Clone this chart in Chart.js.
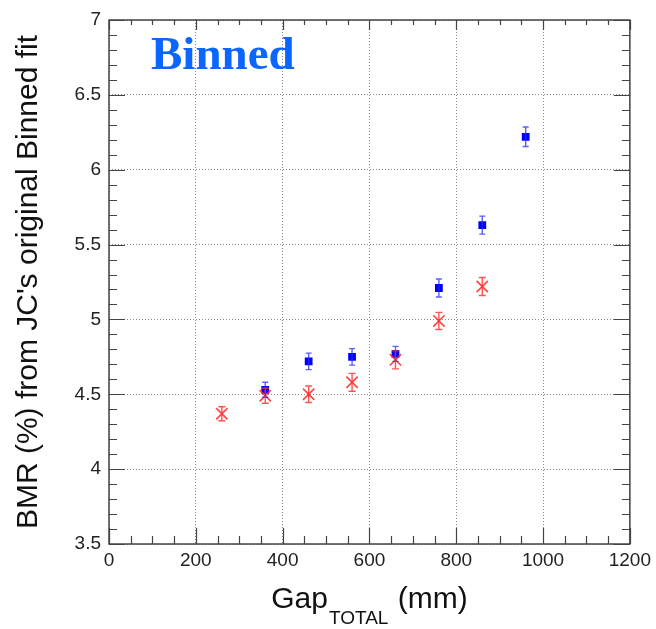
<!DOCTYPE html>
<html>
<head>
<meta charset="utf-8">
<script src="https://cdn.jsdelivr.net/npm/chart.js@4/dist/chart.umd.min.js"></script>
<style>
  html, body { margin: 0; padding: 0; background: #ffffff; }
  #wrap { position: relative; width: 656px; height: 629px; }
</style>
</head>
<body>
<div id="wrap"><canvas id="c" width="656" height="629"></canvas></div>
<script>
// ---- data ----
const blueGap = [360, 460, 560, 660, 760, 860, 960];
const blueBMR = [4.53, 4.72, 4.75, 4.77, 5.21, 5.63, 6.22];
const blueErr = [0.05, 0.055, 0.055, 0.05, 0.06, 0.06, 0.065];

const redGap = [260, 360, 460, 560, 660, 760, 860];
const redBMR = [4.37, 4.49, 4.50, 4.58, 4.73, 4.99, 5.22];
const redErr = [0.047, 0.05, 0.055, 0.06, 0.06, 0.057, 0.06];

const xTicks = [0, 200, 400, 600, 800, 1000, 1200];
const yTicks = [3.5, 4, 4.5, 5, 5.5, 6, 6.5, 7];

const titleText = "Binned";
const yTitle = "BMR (%) from JC's original Binned fit";
const xTitleMain = "Gap";
const xTitleSub = "TOTAL";
const xTitleUnit = " (mm)";

const toPoints = (xs, ys) => xs.map((x, i) => ({ x: x, y: ys[i] }));

const errorBars = {
  id: 'errorBars',
  afterDatasetsDraw(chart) {
    const ctx = chart.ctx;
    const xs = chart.scales.x, ys = chart.scales.y;
    const sets = [
      { gx: blueGap, v: blueBMR, e: blueErr, color: 'rgba(40,40,255,0.75)', cap: 3 },
      { gx: redGap, v: redBMR, e: redErr, color: 'rgba(255,40,40,0.8)', cap: 3.5 }
    ];
    ctx.save();
    sets.forEach(s => {
      ctx.strokeStyle = s.color;
      ctx.lineWidth = 1.4;
      s.gx.forEach((g, i) => {
        const px = xs.getPixelForValue(g);
        const y1 = ys.getPixelForValue(s.v[i] + s.e[i]);
        const y2 = ys.getPixelForValue(s.v[i] - s.e[i]);
        ctx.beginPath();
        ctx.moveTo(px, y1); ctx.lineTo(px, y2);
        ctx.moveTo(px - s.cap, y1); ctx.lineTo(px + s.cap, y1);
        ctx.moveTo(px - s.cap, y2); ctx.lineTo(px + s.cap, y2);
        ctx.stroke();
      });
    });
    ctx.restore();
  }
};

const frameAndTicks = {
  id: 'frameAndTicks',
  afterDraw(chart) {
    const ctx = chart.ctx;
    const a = chart.chartArea;
    const xs = chart.scales.x, ys = chart.scales.y;
    ctx.save();
    ctx.strokeStyle = '#444';
    ctx.lineWidth = 1.2;
    ctx.beginPath();
    for (let v = xs.min; v <= xs.max + 1e-9; v += 50) {
      const px = Math.round(xs.getPixelForValue(v)) + 0.5;
      const major = Math.abs(v % 200) < 1e-6;
      const lb = major ? 16 : 8;
      const lt = major ? 10 : 5;
      ctx.moveTo(px, a.bottom); ctx.lineTo(px, a.bottom - lb);
      ctx.moveTo(px, a.top); ctx.lineTo(px, a.top + lt);
    }
    for (let k = 0; k <= 35; k++) {
      const v = ys.min + k * 0.1;
      const py = Math.round(ys.getPixelForValue(v)) + 0.5;
      const major = k % 5 === 0;
      const l = major ? 16 : 8;
      ctx.moveTo(a.left, py); ctx.lineTo(a.left + l, py);
      ctx.moveTo(a.right, py); ctx.lineTo(a.right - l, py);
    }
    ctx.stroke();
    ctx.lineWidth = 1.5;
    ctx.strokeStyle = '#444';
    ctx.strokeRect(a.left, a.top, a.right - a.left, a.bottom - a.top);

    // title "Binned"
    ctx.fillStyle = '#0a66ff';
    ctx.font = 'bold 47px "Liberation Serif", "DejaVu Serif", serif';
    ctx.textAlign = 'left';
    ctx.textBaseline = 'alphabetic';
    ctx.fillText(titleText, 151, 69);

    // x axis title with subscript
    ctx.fillStyle = '#111';
    const big = '30px "Liberation Sans", Arial, sans-serif';
    const small = '19px "Liberation Sans", Arial, sans-serif';
    ctx.font = big;
    const w1 = ctx.measureText(xTitleMain).width;
    const w3 = ctx.measureText(xTitleUnit).width;
    ctx.font = small;
    const w2 = ctx.measureText(xTitleSub).width;
    const total = w1 + w2 + w3 + 2;
    const cx = (a.left + a.right) / 2;
    let x0 = cx - total / 2;
    const base = 608;
    ctx.font = big;
    ctx.fillText(xTitleMain, x0, base);
    ctx.font = small;
    ctx.fillText(xTitleSub, x0 + w1 + 1, base + 16);
    ctx.font = big;
    ctx.fillText(xTitleUnit, x0 + w1 + w2 + 2, base);
    ctx.restore();
  }
};

const gridCommon = { color: '#8a8a8a', lineWidth: 1, drawTicks: false };

new Chart(document.getElementById('c'), {
  type: 'scatter',
  data: {
    datasets: [
      {
        label: 'red',
        data: toPoints(redGap, redBMR),
        pointStyle: 'crossRot',
        pointRadius: 8,
        pointHoverRadius: 8,
        borderColor: 'rgba(255,40,40,0.85)',
        backgroundColor: 'rgba(255,40,40,0.85)',
        pointBorderWidth: 1.7
      },
      {
        label: 'blue',
        data: toPoints(blueGap, blueBMR),
        pointStyle: 'rect',
        pointRadius: 5.5,
        pointHoverRadius: 5.5,
        borderColor: '#0000ff',
        backgroundColor: '#0000ff',
        pointBorderWidth: 0
      }
    ]
  },
  options: {
    responsive: false,
    animation: false,
    layout: { padding: { left: 0, top: 20, right: 25, bottom: 0 } },
    plugins: { legend: { display: false }, tooltip: { enabled: false } },
    scales: {
      x: {
        type: 'linear',
        min: 0, max: 1200,
        afterBuildTicks: (s) => { s.ticks = xTicks.map(v => ({ value: v })); },
        afterFit: (s) => { s.height = 85; },
        grid: gridCommon,
        border: { display: false, dash: [1, 2] },
        ticks: {
          color: '#222',
          font: { family: '"Liberation Sans", Arial, sans-serif', size: 19 },
          padding: 5,
          maxRotation: 0,
          autoSkip: false,
          callback: (v) => String(v)
        }
      },
      y: {
        type: 'linear',
        min: 3.5, max: 7,
        afterBuildTicks: (s) => { s.ticks = yTicks.map(v => ({ value: v })); },
        afterFit: (s) => { s.width = 109; },
        grid: gridCommon,
        border: { display: false, dash: [1, 2] },
        ticks: {
          color: '#222',
          font: { family: '"Liberation Sans", Arial, sans-serif', size: 19 },
          padding: 8,
          autoSkip: false,
          callback: (v) => String(v)
        },
        title: {
          display: true,
          text: yTitle,
          color: '#111',
          font: { family: '"Liberation Sans", Arial, sans-serif', size: 30 },
          padding: { top: 11, bottom: 0 }
        }
      }
    }
  },
  plugins: [errorBars, frameAndTicks]
});
</script>
</body>
</html>
